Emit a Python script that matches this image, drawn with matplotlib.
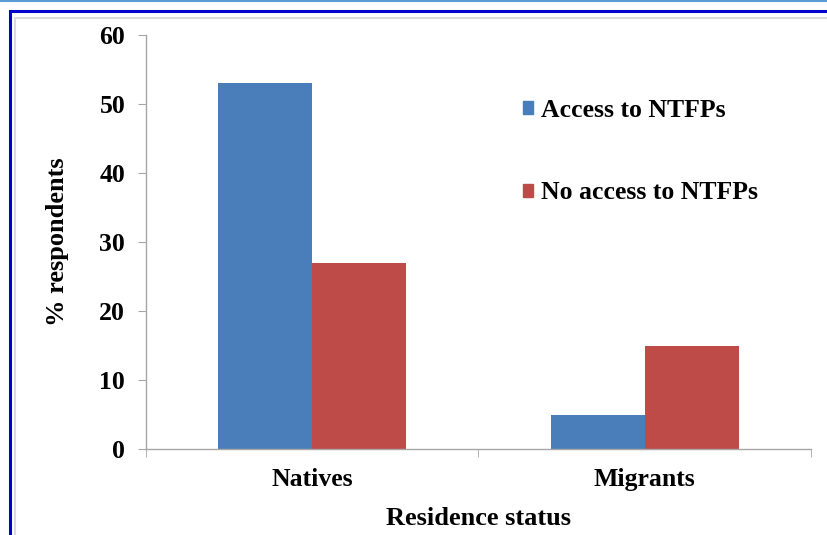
import matplotlib.pyplot as plt
import matplotlib.patches as mpatches
import numpy as np

categories = ["Natives", "Migrants"]
access = [53, 5]
no_access = [27, 15]
series_names = ["Access to NTFPs", "No access to NTFPs"]
yticks = [0, 10, 20, 30, 40, 50, 60]

blue = "#4a7ebb"
red = "#be4b48"
axis_gray = "#a6a6a6"

plt.rcParams["font.family"] = ["Liberation Serif", "DejaVu Serif"]
plt.rcParams["font.weight"] = "bold"

W, H = 828, 535
fig = plt.figure(figsize=(W / 100, H / 100), dpi=100)

# outer frame decorations
fig.add_artist(plt.Line2D([0, 1], [1 - 1 / H, 1 - 1 / H], transform=fig.transFigure,
                          color="#5b9bd5", lw=1.5))
fig.add_artist(mpatches.Rectangle((9.5 / W, -0.1), 1.2, 1 - 11 / H + 0.1,
                                  transform=fig.transFigure, fill=False,
                                  edgecolor="#0000cc", lw=2.2))
fig.add_artist(mpatches.Rectangle((15.5 / W, -0.1), 1.2, 1 - 18 / H + 0.1,
                                  transform=fig.transFigure, fill=False,
                                  edgecolor="#d9d9d9", lw=1.5))

left, right = 146 / W, 811 / W
bottom, top = 1 - 449 / H, 1 - 35 / H
ax = fig.add_axes([left, bottom, right - left, top - bottom])

x = np.arange(len(categories))
bw = 0.283
ax.bar(x - bw / 2, access, width=bw, color=blue, label=series_names[0])
ax.bar(x + bw / 2, no_access, width=bw, color=red, label=series_names[1])

fs = 18.5
ax.set_xlim(-0.5, 1.5)
ax.set_ylim(0, 60)
ax.set_yticks(yticks)
ax.set_yticklabels([str(v) for v in yticks], fontsize=fs, fontweight="bold")
ax.set_xticks(x)
ax.set_xticklabels(categories, fontsize=fs, fontweight="bold")
ax.set_xticks([-0.5, 0.5, 1.5], minor=True)
ax.tick_params(axis="x", which="major", length=0, pad=14)
ax.tick_params(axis="x", which="minor", length=6, color=axis_gray, direction="out")
ax.tick_params(axis="y", length=6, color=axis_gray, direction="out", pad=9)

for s in ["top", "right"]:
    ax.spines[s].set_visible(False)
for s in ["left", "bottom"]:
    ax.spines[s].set_color(axis_gray)
    ax.spines[s].set_linewidth(1.0)

ax.set_ylabel("% respondents", fontsize=19, fontweight="bold", labelpad=22)
ax.set_xlabel("Residence status", fontsize=19, fontweight="bold", labelpad=11)

handles = [mpatches.Patch(color=blue), mpatches.Patch(color=red)]
leg = ax.legend(handles, series_names, loc="upper left",
                bbox_to_anchor=((500 - 146) / (811 - 146), (449 - 76) / (449 - 35)),
                frameon=False, handlelength=0.4, handleheight=0.4,
                handletextpad=0.3, labelspacing=2.3,
                prop={"weight": "bold", "size": fs})

fig.savefig("out.png", dpi=100)
